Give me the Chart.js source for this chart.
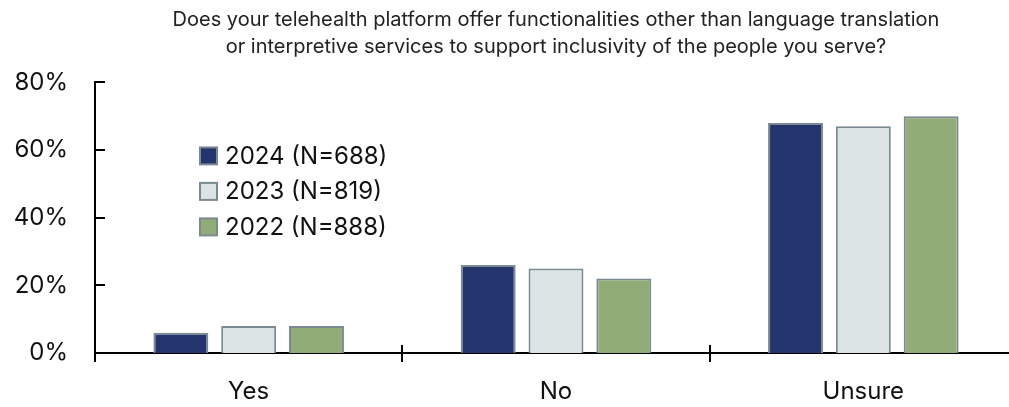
<!DOCTYPE html>
<html>
<head>
<meta charset="utf-8">
<script src="https://cdn.jsdelivr.net/npm/chart.js@4"></script>
<style>
  html, body { margin: 0; padding: 0; background: #fff; overflow: hidden; }
  #wrap { width: 1017px; height: 407px; }
</style>
</head>
<body>
<div id="wrap"><canvas id="chart"></canvas></div>
<script>
// data
var categories = ["Yes", "No", "Unsure"];
var seriesLabels = ["2024 (N=688)", "2023 (N=819)", "2022 (N=888)"];
var values2024 = [6, 26, 68];
var values2023 = [8, 25, 67];
var values2022 = [8, 22, 70];
var yTicks = [0, 20, 40, 60, 80];

var colors = ["#24346c", "#dce3e5", "#92ac77"];
var edge = "#7b8a91";
var font = "Inter, 'Liberation Sans', Arial, sans-serif";

// tick marks (inward on y, crossing on x) and legend inside the plot
var axisMarks = {
  id: "axisMarks",
  afterDraw: function (chart) {
    var ctx = chart.ctx;
    var x = chart.scales.x, y = chart.scales.y;
    ctx.save();
    ctx.strokeStyle = "#000";
    ctx.lineWidth = 2;
    yTicks.forEach(function (v) {
      var py = Math.round(y.getPixelForValue(v));
      ctx.beginPath();
      ctx.moveTo(x.left, py);
      ctx.lineTo(x.left + 10, py);
      ctx.stroke();
    });
    for (var i = 0; i < categories.length; i++) {
      var px = i === 0 ? x.left : (x.getPixelForTick(i - 1) + x.getPixelForTick(i)) / 2;
      ctx.beginPath();
      ctx.moveTo(Math.round(px), y.bottom - (i === 0 ? 0 : 8));
      ctx.lineTo(Math.round(px), y.bottom + 9);
      ctx.stroke();
    }

    // legend
    var left = chart.chartArea.left + 105;
    var top = chart.chartArea.top + 73;
    ctx.font = "24px " + font;
    ctx.textBaseline = "middle";
    chart.data.datasets.forEach(function (ds, k) {
      var cy = top + k * 35.5;
      ctx.fillStyle = ds.backgroundColor;
      ctx.fillRect(left, cy - 8, 17, 17);
      ctx.strokeStyle = edge;
      ctx.lineWidth = 2;
      ctx.strokeRect(left, cy - 8, 17, 17);
      ctx.fillStyle = "#111";
      ctx.fillText(ds.label, left + 25, cy + 1);
    });
    ctx.restore();
  }
};

var ctxB = document.getElementById("chart").getContext("2d");
var barChart = new Chart(ctxB, {
  type: "bar",
  data: {
    labels: categories,
    datasets: [
      { label: seriesLabels[0], data: values2024, backgroundColor: colors[0] },
      { label: seriesLabels[1], data: values2023, backgroundColor: colors[1] },
      { label: seriesLabels[2], data: values2022, backgroundColor: colors[2] },
    ],
  },
  options: {
    responsive: true,
    maintainAspectRatio: false,
    animation: false,
    layout: { padding: 0 },
    datasets: {
      bar: {
        borderColor: edge,
        borderWidth: 2,
        categoryPercentage: 0.662,
        barPercentage: 0.81,
      },
    },
    plugins: {
      legend: { display: false },
      tooltip: { enabled: false },
      title: {
        display: true,
        fullSize: false,
        text: [
          "Does your telehealth platform offer functionalities other than language translation",
          "or interpretive services to support inclusivity of the people you serve?",
        ],
        color: "#222",
        font: { family: font, size: 20, weight: "normal", lineHeight: 1.36 },
        padding: { top: 6, bottom: 22 },
      },
    },
    scales: {
      x: {
        grid: { display: false, drawTicks: false },
        border: { display: true, color: "#000", width: 2 },
        ticks: { color: "#111", font: { family: font, size: 24 }, padding: 24 },
        afterFit: function (axis) { axis.height = 54; },
      },
      y: {
        min: 0,
        max: 80,
        afterBuildTicks: function (axis) {
          axis.ticks = yTicks.map(function (v) { return { value: v }; });
        },
        grid: { display: false, drawTicks: false },
        border: { display: true, color: "#000", width: 2 },
        ticks: {
          color: "#111",
          font: { family: font, size: 24 },
          padding: 27,
          callback: function (v) { return v + "%"; },
        },
        afterFit: function (axis) { axis.width = 95; },
      },
    },
  },
  plugins: [axisMarks],
});
</script>
</body>
</html>
